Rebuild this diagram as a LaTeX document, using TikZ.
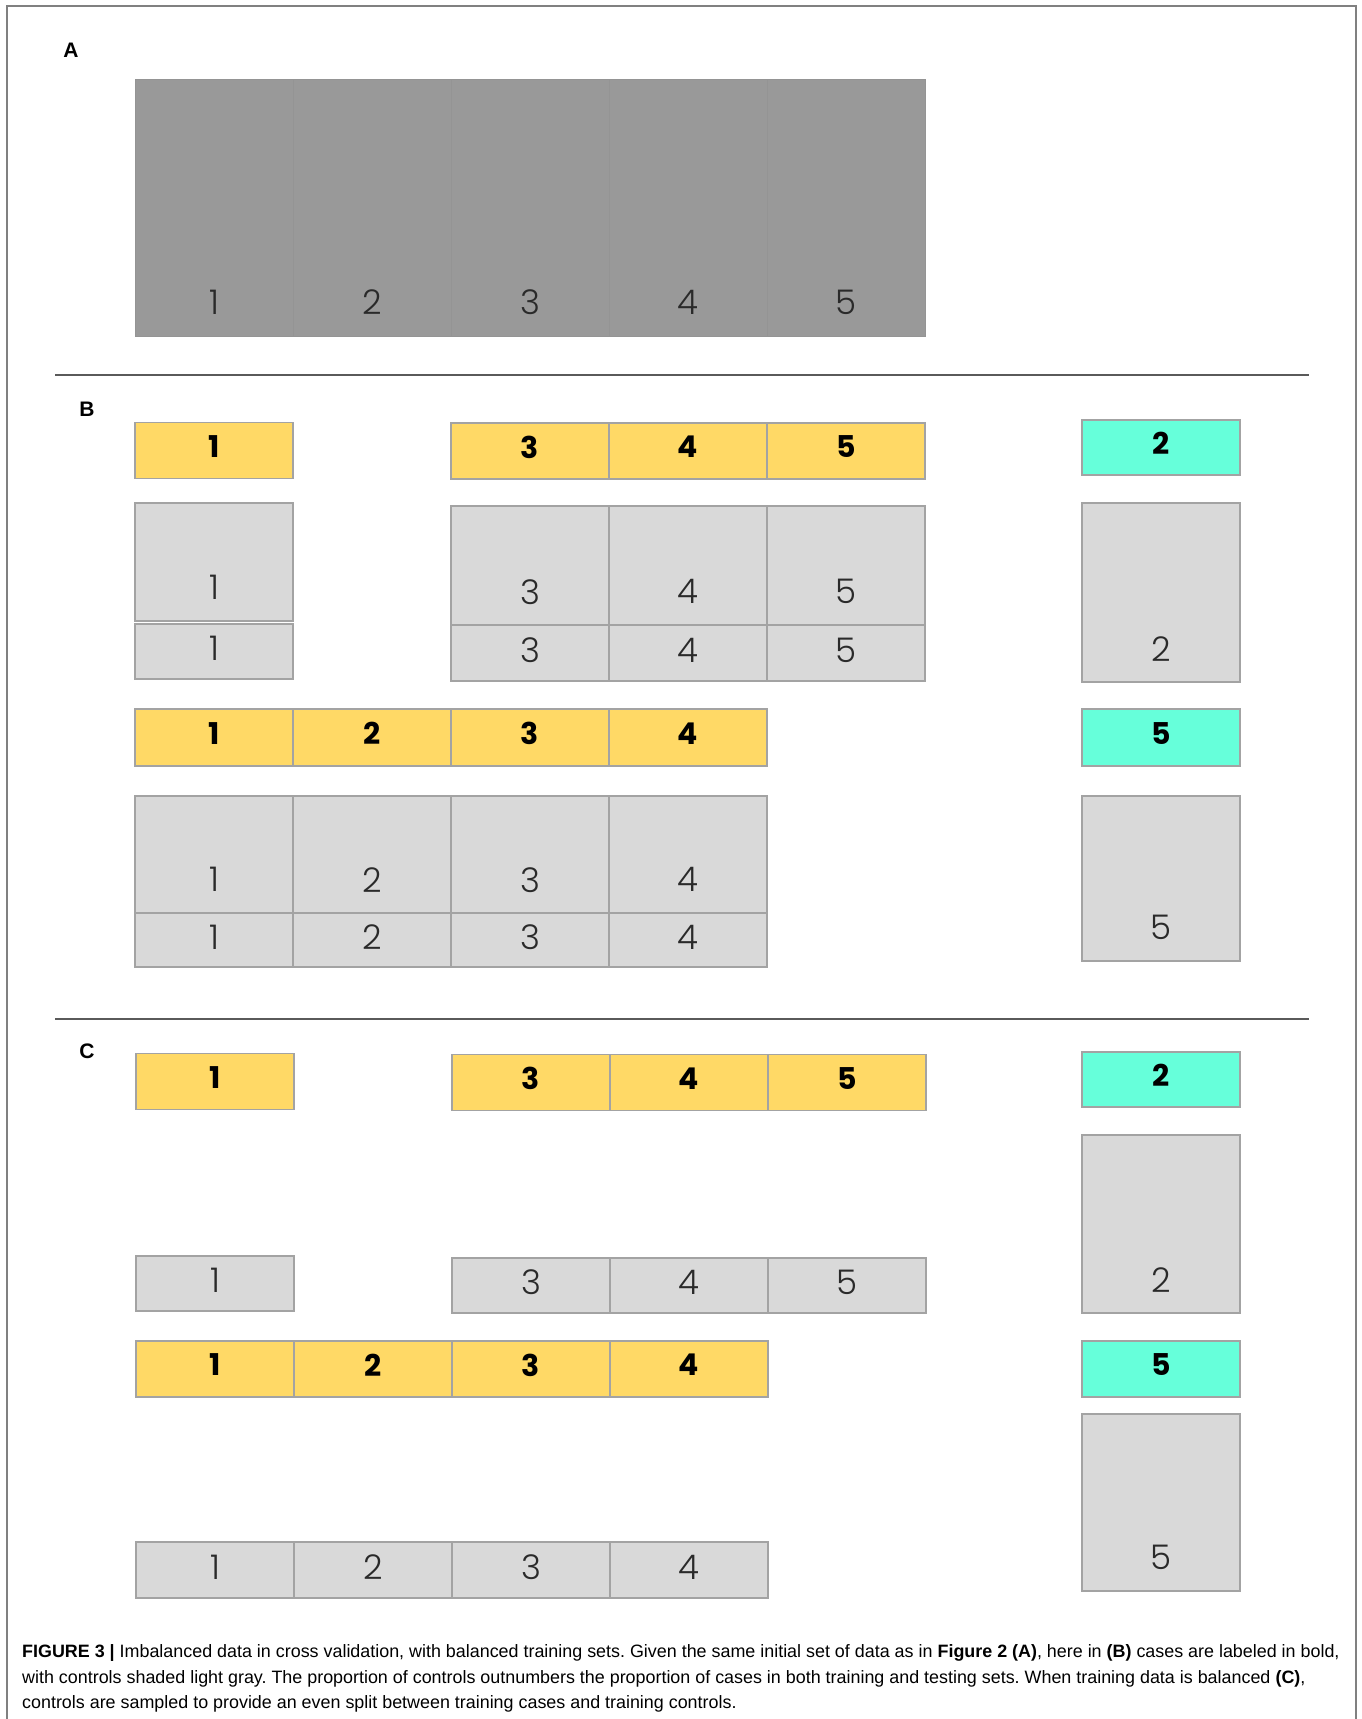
\documentclass[tikz,border=0pt]{standalone}
\usepackage{fontspec}
\setmainfont{Liberation Sans}
\newfontfamily\numfont{Poppins}
\newfontfamily\thinfont{Poppins Light}
\usetikzlibrary{positioning}
\definecolor{caseyellow}{HTML}{FFD966}
\definecolor{testcyan}{HTML}{66FFDA}
\definecolor{ctrlgray}{HTML}{D9D9D9}
\definecolor{allgray}{HTML}{999999}
\definecolor{boxline}{HTML}{A3A3A3}
\definecolor{numgray}{HTML}{2A2A2A}
\definecolor{rulegray}{HTML}{5A5A5A}
\definecolor{framegray}{HTML}{808080}
\begin{document}
\begin{tikzpicture}[x=1pt,y=-1pt,
  box/.style={draw=boxline,line width=1.5pt,inner sep=0pt,minimum width=158pt},
  casebox/.style={box,fill=caseyellow,minimum height=56pt,text depth=8pt,font=\numfont\bfseries\fontsize{30}{30}\selectfont},
  testbox/.style={box,fill=testcyan,minimum height=55pt,text depth=8pt,font=\numfont\bfseries\fontsize{30}{30}\selectfont},
  ctrlbox/.style={box,fill=ctrlgray,minimum height=55pt,text depth=6pt,text=numgray,font=\thinfont\fontsize{34}{34}\selectfont},
  allbox/.style={box,draw=allgray!97!black,line width=1pt,fill=allgray,minimum height=257pt},
  tall/.style={label={[text=numgray,font=\thinfont\fontsize{34}{34}\selectfont,anchor=center,yshift=34pt]south:#1}},
  panel/.style={font=\bfseries\fontsize{21}{21}\selectfont},
  rule/.style={draw=rulegray,line width=2pt},
  capline/.style={anchor=base west,inner sep=0pt,font=\frenchspacing\fontsize{17.9}{17.9}\selectfont}]
\useasboundingbox (0,0) rectangle (1362,1719);
\draw[framegray,line width=1.5pt] (7,1719) -- (7,6) -- (1356,6) -- (1356,1719);

\node[panel] (labA) at (71,50) {A};
\node[allbox,tall=1] (a1) at (214,207.5) {};
\node[allbox,tall=2] (a2) at (372,207.5) {};
\node[allbox,tall=3] (a3) at (530,207.5) {};
\node[allbox,tall=4] (a4) at (688,207.5) {};
\node[allbox,tall=5] (a5) at (846,207.5) {};
\draw[rule] (55,375) -- (1309,375);

\node[panel] (labB) at (87,409) {B};
\node[casebox] (b1y1) at (214,450.5) {1};
\node[casebox] (b1y3) at (530,451) {3};
\node[casebox] (b1y4) at (688,451) {4};
\node[casebox] (b1y5) at (846,451) {5};
\node[testbox] (b1t) at (1161,447.5) {2};
\node[ctrlbox,minimum height=118pt,tall=1] (b1c1) at (214,562) {};
\node[ctrlbox,minimum height=119pt,tall=3] (b1c3) at (530,565.5) {};
\node[ctrlbox,minimum height=119pt,tall=4] (b1c4) at (688,565.5) {};
\node[ctrlbox,minimum height=119pt,tall=5] (b1c5) at (846,565.5) {};
\node[ctrlbox] (b1d1) at (214,651.5) {1};
\node[ctrlbox,minimum height=56pt] (b1d3) at (530,653) {3};
\node[ctrlbox,minimum height=56pt] (b1d4) at (688,653) {4};
\node[ctrlbox,minimum height=56pt] (b1d5) at (846,653) {5};
\node[ctrlbox,minimum height=179pt,tall=2] (b1tc) at (1161,592.5) {};

\node[casebox,minimum height=57pt] (b2y1) at (214,737.5) {1};
\node[casebox,minimum height=57pt] (b2y2) at (372,737.5) {2};
\node[casebox,minimum height=57pt] (b2y3) at (530,737.5) {3};
\node[casebox,minimum height=57pt] (b2y4) at (688,737.5) {4};
\node[testbox,minimum height=57pt] (b2t) at (1161,737.5) {5};
\node[ctrlbox,minimum height=117pt,tall=1] (b2c1) at (214,854.5) {};
\node[ctrlbox,minimum height=117pt,tall=2] (b2c2) at (372,854.5) {};
\node[ctrlbox,minimum height=117pt,tall=3] (b2c3) at (530,854.5) {};
\node[ctrlbox,minimum height=117pt,tall=4] (b2c4) at (688,854.5) {};
\node[ctrlbox,minimum height=54pt] (b2d1) at (214,940) {1};
\node[ctrlbox,minimum height=54pt] (b2d2) at (372,940) {2};
\node[ctrlbox,minimum height=54pt] (b2d3) at (530,940) {3};
\node[ctrlbox,minimum height=54pt] (b2d4) at (688,940) {4};
\node[ctrlbox,minimum height=165pt,tall=5] (b2tc) at (1161,878.5) {};
\draw[rule] (55,1019) -- (1309,1019);

\node[panel] (labC) at (87,1051) {C};
\node[casebox] (c1y1) at (215,1081.5) {1};
\node[casebox] (c1y3) at (531,1082.5) {3};
\node[casebox] (c1y4) at (689,1082.5) {4};
\node[casebox] (c1y5) at (847,1082.5) {5};
\node[testbox] (c1t) at (1161,1079.5) {2};
\node[ctrlbox] (c1d1) at (215,1283.5) {1};
\node[ctrlbox] (c1d3) at (531,1285.5) {3};
\node[ctrlbox] (c1d4) at (689,1285.5) {4};
\node[ctrlbox] (c1d5) at (847,1285.5) {5};
\node[ctrlbox,minimum height=178pt,tall=2] (c1tc) at (1161,1224) {};

\node[casebox] (c2y1) at (215,1369) {1};
\node[casebox] (c2y2) at (373,1369) {2};
\node[casebox] (c2y3) at (531,1369) {3};
\node[casebox] (c2y4) at (689,1369) {4};
\node[testbox,minimum height=56pt] (c2t) at (1161,1369) {5};
\node[ctrlbox,minimum height=56pt] (c2d1) at (215,1570) {1};
\node[ctrlbox,minimum height=56pt] (c2d2) at (373,1570) {2};
\node[ctrlbox,minimum height=56pt] (c2d3) at (531,1570) {3};
\node[ctrlbox,minimum height=56pt] (c2d4) at (689,1570) {4};
\node[ctrlbox,minimum height=177pt,tall=5] (c2tc) at (1161,1502.5) {};

\node[capline] (cap1) at (22,1657) {\textbf{FIGURE 3 |} Imbalanced data in cross validation, with balanced training sets. Given the same initial set of data as in \textbf{Figure 2 (A)}, here in \textbf{(B)} cases are labeled in bold,};
\node[capline] (cap2) at (22,1683) {with controls shaded light gray. The proportion of controls outnumbers the proportion of cases in both training and testing sets. When training data is balanced \textbf{(C)},};
\node[capline] (cap3) at (22,1708) {controls are sampled to provide an even split between training cases and training controls.};
\end{tikzpicture}
\end{document}
